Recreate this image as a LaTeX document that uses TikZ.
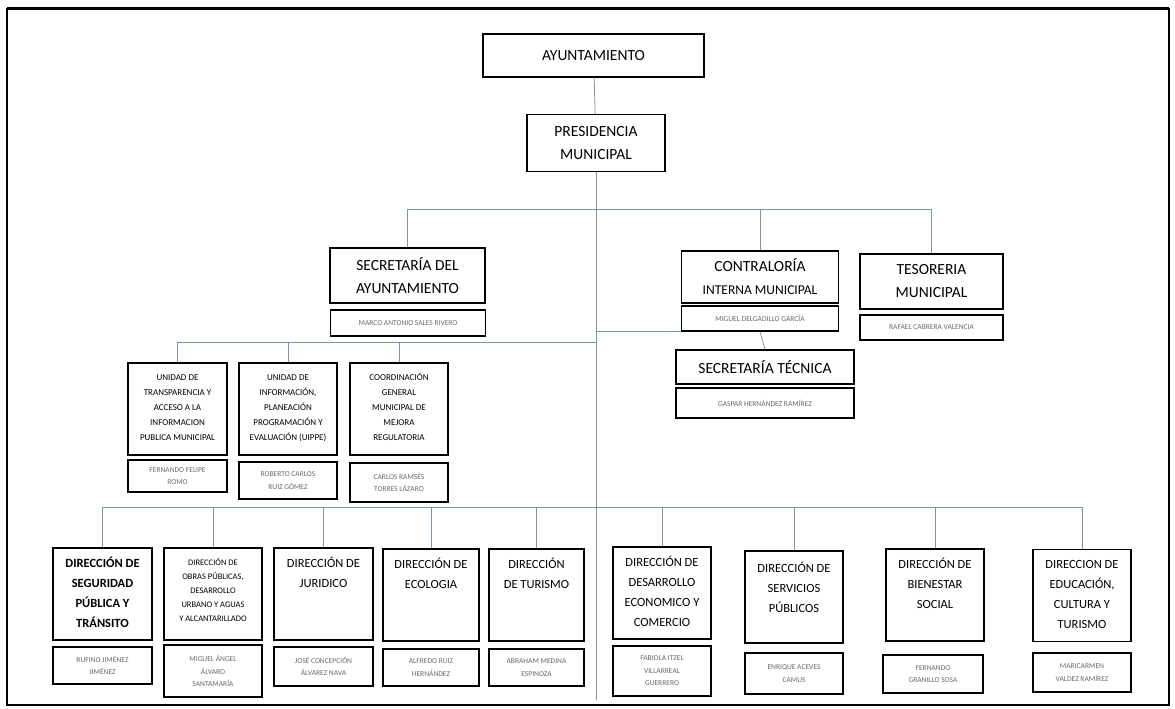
\documentclass[tikz,border=0pt]{standalone}
\usepackage{fontspec}
\setmainfont{Carlito}

\definecolor{linkblue}{RGB}{120,150,172}
\definecolor{namegray}{RGB}{105,105,105}

\def\bigf{\fontsize{15.5}{23}\selectfont}
\def\dirf{\fontsize{12.5}{20}\selectfont}
\def\unitf{\fontsize{9}{15}\selectfont}
\newcommand{\topbox}[4]{\parbox[c][#2pt][t]{#1pt}{\centering\rule{0pt}{#3pt}#4\par}}

\tikzset{
  orgbox/.style={draw=black, line width=1.3pt, inner sep=0pt, align=center},
  namebox/.style={orgbox, font=\fontsize{7.5}{12.5}\selectfont, text=namegray},
  link/.style={draw=linkblue, line width=0.8pt},
}

\begin{document}
\begin{tikzpicture}[x=1pt, y=-1pt]
\useasboundingbox (0,0) rectangle (1175,709);

% frame
\draw[line width=1.2pt] (7,9) rectangle (1169,705);
\draw[line width=3pt] (7,9) -- (1169,9);

% top
\node[orgbox, minimum width=221, minimum height=43, font=\bigf] (ayto) at (593.5,55.5) {AYUNTAMIENTO};
\node[orgbox, minimum width=138, minimum height=57, font=\bigf] (pres) at (596,143) {PRESIDENCIA\\MUNICIPAL};

% secretaria, contraloria, tesoreria
\node[orgbox, minimum width=155, minimum height=55, font=\bigf] (secr) at (407.5,275.5) {SECRETARÍA DEL\\AYUNTAMIENTO};
\node[namebox, minimum width=155, minimum height=26] (secrN) at (408,323) {MARCO ANTONIO SALES RIVERO};
\node[orgbox, minimum width=157, minimum height=52, font=\bigf] (contr) at (760,277) {CONTRALORÍA\\{\fontsize{13.5}{20}\selectfont INTERNA MUNICIPAL}};
\node[namebox, minimum width=157, minimum height=25] (contrN) at (760,318.5) {MIGUEL DELGADILLO GARCÍA};
\node[orgbox, minimum width=178, minimum height=34, font=\bigf] (tec) at (765,367) {SECRETARÍA TÉCNICA};
\node[namebox, minimum width=178, minimum height=30] (tecN) at (765,403) {GASPAR HERNÁNDEZ RAMÍREZ};
\node[orgbox, minimum width=143, minimum height=55, font=\bigf] (teso) at (931.5,281.5) {TESORERIA\\MUNICIPAL};
\node[namebox, minimum width=143, minimum height=25] (tesoN) at (931.5,327.5) {RAFAEL CABRERA VALENCIA};

% units
\node[orgbox, font=\unitf] (u1) at (177.5,409) {\topbox{99}{92}{17}{UNIDAD DE\\TRANSPARENCIA Y\\ACCESO A LA\\INFORMACION\\PUBLICA MUNICIPAL}};
\node[namebox, minimum width=99, minimum height=32] (u1N) at (177.5,476) {FERNANDO FELIPE\\ROMO};
\node[orgbox, font=\unitf] (u2) at (288,409) {\topbox{98}{92}{17}{UNIDAD DE\\INFORMACIÓN,\\PLANEACIÓN\\PROGRAMACIÓN Y\\EVALUACIÓN (UIPPE)}};
\node[namebox, minimum width=98, minimum height=37] (u2N) at (288,480.5) {ROBERTO CARLOS\\RUIZ GÓMEZ};
\node[orgbox, font=\unitf] (u3) at (399,409) {\topbox{98}{92}{17}{COORDINACIÓN\\GENERAL\\MUNICIPAL DE\\MEJORA\\REGULATORIA}};
\node[namebox, minimum width=98, minimum height=39] (u3N) at (399,482.5) {CARLOS RAMSÉS\\TORRES LÁZARO};

% directions
\node[orgbox, font=\dirf\bfseries] (d1) at (102.5,594) {\topbox{99}{92}{19}{DIRECCIÓN DE\\SEGURIDAD\\PÚBLICA Y\\TRÁNSITO}};
\node[namebox, minimum width=99, minimum height=37] (d1N) at (102.5,665.5) {RUFINO JIMÉNEZ\\JIMÉNEZ};
\node[orgbox, font=\fontsize{8.5}{14}\selectfont] (d2) at (213,594) {\topbox{98}{92}{17}{DIRECCIÓN DE\\OBRAS PÚBLICAS,\\DESARROLLO\\URBANO Y AGUAS\\Y ALCANTARILLADO}};
\node[namebox, minimum width=98, minimum height=52] (d2N) at (213,671) {MIGUEL ÁNGEL\\ÁLVARO\\SANTAMARÍA};
\node[orgbox, font=\dirf] (d3) at (323.5,594) {\topbox{99}{92}{19}{DIRECCIÓN DE\\JURIDICO}};
\node[namebox, minimum width=99, minimum height=39] (d3N) at (323.5,666.5) {JOSÉ CONCEPCIÓN\\ÁLVAREZ NAVA};
\node[orgbox, font=\dirf] (d4) at (431,595) {\topbox{96}{92}{19}{DIRECCIÓN DE\\ECOLOGIA}};
\node[namebox, minimum width=96, minimum height=37] (d4N) at (431,667.5) {ALFREDO RUIZ\\HERNÁNDEZ};
\node[orgbox, font=\dirf] (d5) at (536.5,595) {\topbox{95}{92}{19}{DIRECCIÓN\\DE TURISMO}};
\node[namebox, minimum width=95, minimum height=37] (d5N) at (536.5,667.5) {ABRAHAM MEDINA\\ESPINOZA};
\node[orgbox, font=\dirf] (d6) at (662,593) {\topbox{98}{92}{19}{DIRECCIÓN DE\\DESARROLLO\\ECONOMICO Y\\COMERCIO}};
\node[namebox, minimum width=98, minimum height=50] (d6N) at (662,671) {FABIOLA ITZEL\\VILLARREAL\\GUERRERO};
\node[orgbox, font=\dirf] (d7) at (794,597) {\topbox{98}{92}{21}{DIRECCIÓN DE\\SERVICIOS\\PÚBLICOS}};
\node[namebox, minimum width=98, minimum height=41] (d7N) at (794,673.5) {ENRIQUE ACEVES\\CAMUS};
\node[orgbox, font=\dirf] (d8) at (935,595) {\topbox{98}{92}{19}{DIRECCIÓN DE\\BIENESTAR\\SOCIAL}};
\node[namebox, minimum width=100, minimum height=38] (d8N) at (933,674) {FERNANDO\\GRANILLO SOSA};
\node[orgbox, font=\dirf] (d9) at (1082,595.5) {\topbox{98}{92}{19}{DIRECCION DE\\EDUCACIÓN,\\CULTURA Y\\TURISMO}};
\node[namebox, minimum width=98, minimum height=39] (d9N) at (1082,672.5) {MARICARMEN\\VALDEZ RAMÍREZ};

% buses
\coordinate (busA) at (0,209);
\coordinate (busB) at (0,342);
\coordinate (busC) at (0,507);
\coordinate (bot) at (596,700);

\draw[link] (ayto) -- (pres);
\draw[link] (pres.south) -- (bot);
\draw[link] (secr.north) -- (secr.north |- busA) -- (teso.north |- busA) -- (teso.north);
\draw[link] (contr.north |- busA) -- (contr.north);
\draw[link] (bot |- contrN.south west) -- (contrN.south west);
\draw[link] (contrN.south) -- (tec.north);
\draw[link] (bot |- busB) -- (u1.north |- busB) -- (u1.north);
\foreach \u in {u2,u3}
  \draw[link] (\u.north |- busB) -- (\u.north);
\draw[link] (d1.north) -- (d1.north |- busC) -- (d9.north |- busC) -- (d9.north);
\foreach \d in {d2,d3,d4,d5,d6,d7,d8}
  \draw[link] (\d.north |- busC) -- (\d.north);

\end{tikzpicture}
\end{document}
